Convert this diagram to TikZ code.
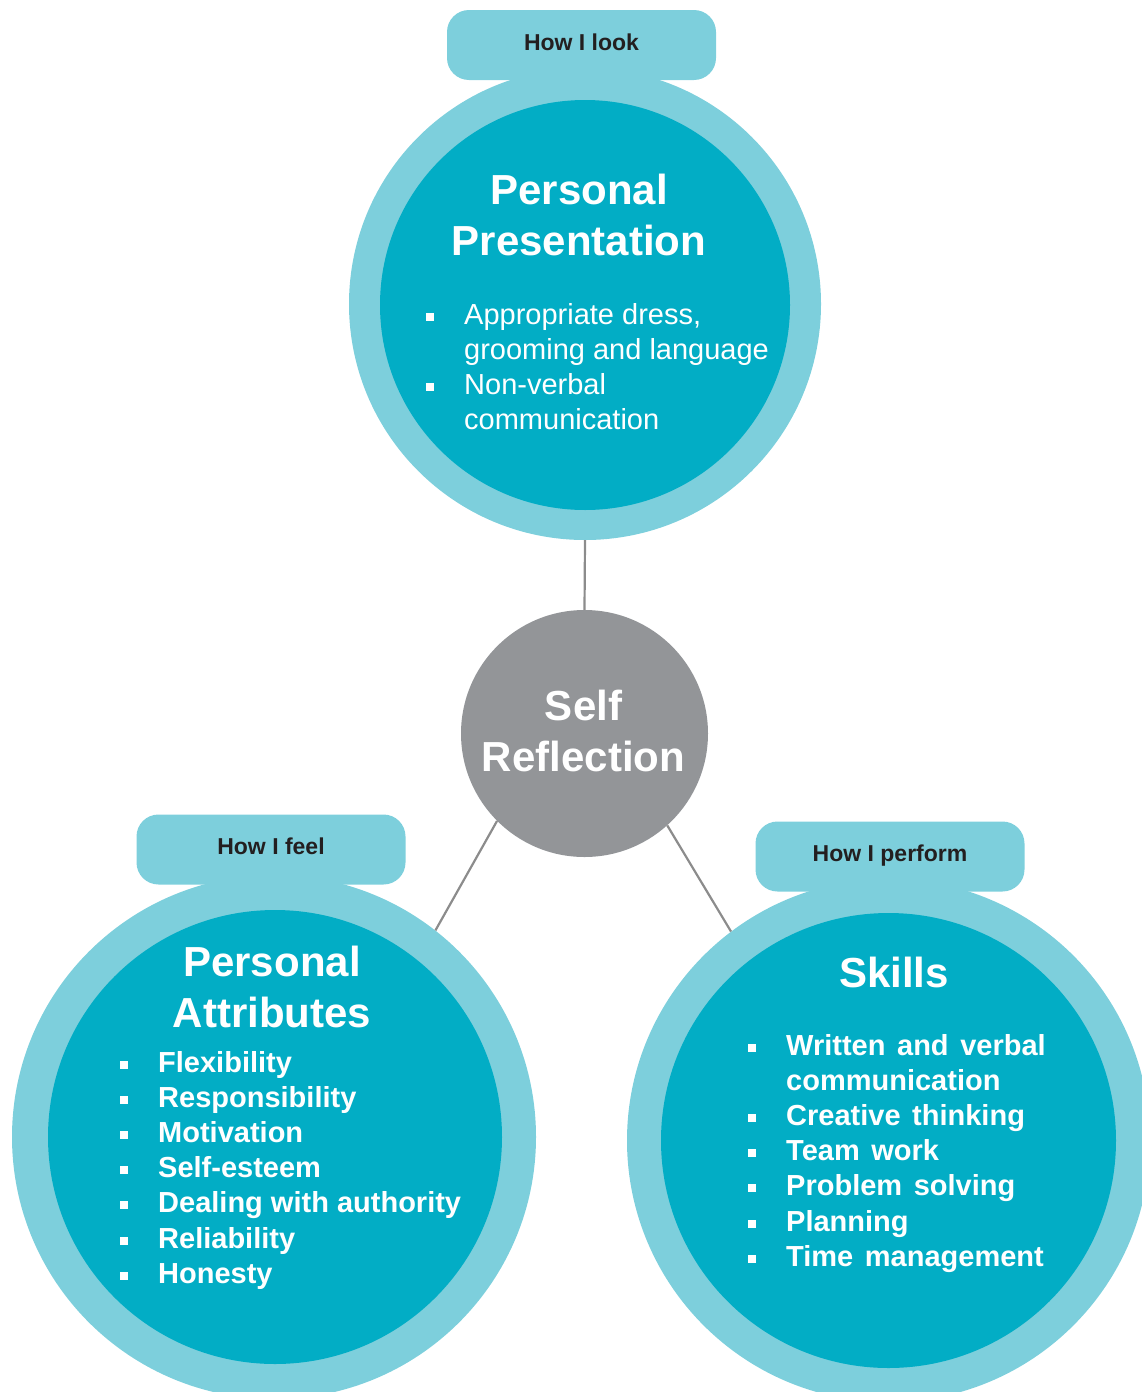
\documentclass[tikz,border=0pt]{standalone}
\usepackage{fontspec}
\setmainfont{Liberation Sans}

\definecolor{ringteal}{HTML}{7DCFDC}
\definecolor{coreteal}{HTML}{02ADC5}
\definecolor{hubgray}{HTML}{939598}
\definecolor{linegray}{HTML}{8C8C8C}
\definecolor{tabtext}{HTML}{231F20}

% square bullet used in the lists
\newcommand{\sqbullet}{\rule[3.5pt]{8pt}{8pt}}

\begin{document}
\begin{tikzpicture}[x=1pt,y=-1pt,
  ring/.style={circle, fill=ringteal, inner sep=0pt},
  core/.style={circle, fill=coreteal, inner sep=0pt},
  hub/.style={circle, fill=hubgray, inner sep=0pt, minimum size=247pt},
  tab/.style={rectangle, rounded corners=22pt, fill=ringteal,
    minimum width=269pt, minimum height=70pt, inner sep=0pt,
    text height=16pt, text depth=6pt, text=tabtext,
    font=\fontsize{23}{27}\selectfont\bfseries},
  heading/.style={anchor=base, inner sep=0pt, text=white,
    font=\fontsize{42}{51}\selectfont\bfseries},
  plainlist/.style={anchor=base west, inner sep=0pt, text=white,
    font=\fontsize{29}{35}\selectfont},
  boldlist/.style={anchor=base west, inner sep=0pt, text=white,
    font=\fontsize{29}{35.2}\selectfont\bfseries},
  link/.style={draw=linegray, line width=2.2pt}]

\useasboundingbox (0,0) rectangle (1142,1392);
\clip (0,0) rectangle (1142,1392);

% ---- Personal Presentation ----
\node[ring, minimum size=472pt] (ppRing) at (585,304) {};
\node[tab] (ppTab) at (581.5,45) {How I look};
\node[core, minimum size=410pt] (ppCore) at (585,305) {};
\node[heading] (ppTitle) at (579,204)
  {\begin{tabular}[t]{@{}c@{}}Personal\\Presentation\end{tabular}};
\node[plainlist] (ppList) at (426,324)
  {\begin{tabular}[t]{@{}l@{\hspace{30pt}}l@{}}
   \sqbullet & Appropriate dress,\\
             & grooming and language\\
   \sqbullet & Non-verbal\\
             & communication
   \end{tabular}};

% ---- Self Reflection hub ----
\node[hub] (self) at (584.5,733.5) {};
\node[heading] (selfTitle) at (583.5,720)
  {\begin{tabular}[t]{@{}c@{}}Self\\Reflection\end{tabular}};

% ---- Personal Attributes ----
\node[ring, minimum size=524pt] (paRing) at (274,1137) {};
\node[tab] (paTab) at (271,849.5) {How I feel};
\node[core, minimum size=454pt] (paCore) at (275,1137) {};
\node[heading] (paTitle) at (272,976)
  {\begin{tabular}[t]{@{}c@{}}Personal\\Attributes\end{tabular}};
\node[boldlist] (paList) at (120,1072)
  {\begin{tabular}[t]{@{}l@{\hspace{30pt}}l@{}}
   \sqbullet & Flexibility\\
   \sqbullet & Responsibility\\
   \sqbullet & Motivation\\
   \sqbullet & Self-esteem\\
   \sqbullet & Dealing with authority\\
   \sqbullet & Reliability\\
   \sqbullet & Honesty
   \end{tabular}};

% ---- Skills ----
\node[ring, minimum size=523pt] (skRing) at (888.5,1140.5) {};
\node[tab] (skTab) at (890,856.5) {How I perform};
\node[core, minimum size=455pt] (skCore) at (888.5,1140.5) {};
\node[heading] (skTitle) at (894,987) {Skills};
\node[boldlist] (skList) at (748,1055)
  {\spaceskip=0.40em\relax
   \begin{tabular}[t]{@{}l@{\hspace{30pt}}l@{}}
   \sqbullet & Written and verbal\\
             & communication\\
   \sqbullet & Creative thinking\\
   \sqbullet & Team work\\
   \sqbullet & Problem solving\\
   \sqbullet & Planning\\
   \sqbullet & Time management
   \end{tabular}};

% ---- connectors ----
\draw[link] (ppRing.south) -- (self.north);
\draw[link] (self.225) -- (paRing.52.3);
\draw[link] (self.-48.3) -- (skRing.127.4);

\end{tikzpicture}
\end{document}
